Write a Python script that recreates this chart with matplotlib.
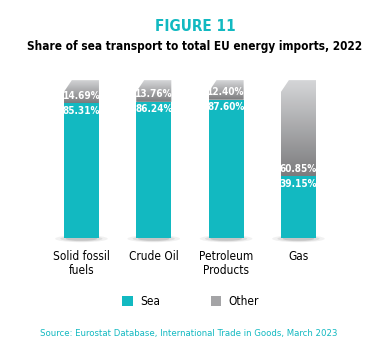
import numpy as np
import matplotlib
matplotlib.use("Agg")
import matplotlib.pyplot as plt
from matplotlib.patches import Polygon, Patch, Ellipse

# ---------- data ----------
categories = ["Solid fossil\nfuels", "Crude Oil", "Petroleum\nProducts", "Gas"]
sea = [85.31, 86.24, 87.60, 39.15]
other = [14.69, 13.76, 12.40, 60.85]

TEAL = "#12b9c1"
plt.rcParams["font.family"] = ["DejaVu Sans"]
plt.rcParams["font.stretch"] = "condensed"

fig = plt.figure(figsize=(3.9, 3.53), dpi=100)
ax = fig.add_axes([0.116, 0.326, 0.742, 0.447])
x = np.arange(len(categories))
w = 0.485

ax.set_xlim(-0.5, len(categories) - 0.5)
ax.set_ylim(0, 100)

# soft shadows under the bars
for xi in x:
    for k, a in zip([1.5, 1.2, 0.9], [0.08, 0.12, 0.18]):
        ax.add_patch(Ellipse((xi, -0.5), w * k, 3.0 * k, color="#555555",
                             alpha=a, lw=0, clip_on=False, zorder=1))

ax.bar(x, sea, w, color=TEAL, zorder=3)

# grey "other" part: gradient, top-left corner cut
grad = np.linspace(0, 1, 256).reshape(-1, 1)
cmap = matplotlib.colors.LinearSegmentedColormap.from_list("g", ["#d6d7d9", "#7b7b7d"])
cx, cy = 0.11, 7.5
for xi, s, o in zip(x, sea, other):
    top = s + o
    left, right = xi - w / 2, xi + w / 2
    shape = Polygon([(left, s), (right, s), (right, top), (left + cx, top),
                     (left, top - cy)], closed=True, facecolor="none", lw=0)
    ax.add_patch(shape)
    im = ax.imshow(grad, cmap=cmap, extent=(left, right, s, top),
                   aspect="auto", origin="upper", zorder=2, interpolation="bilinear")
    im.set_clip_path(shape)
    ax.text(xi, s + 1.5, f"{o:.2f}%", ha="center", va="bottom", color="white",
            fontsize=7.2, fontweight="bold", zorder=5)
    ax.text(xi, s - 1.5, f"{s:.2f}%", ha="center", va="top", color="white",
            fontsize=7.2, fontweight="bold", zorder=5)

ax.set_xlim(-0.5, len(categories) - 0.5)
ax.set_ylim(0, 100)
ax.set_xticks(x)
ax.set_xticklabels(categories, fontsize=8.5, linespacing=1.05)
ax.tick_params(axis="x", length=0, pad=9)
ax.set_yticks([])
for sp in ax.spines.values():
    sp.set_visible(False)

fig.text(0.5, 0.925, "FIGURE 11", ha="center", va="center", color=TEAL,
         fontsize=11, fontweight="bold")
fig.text(0.5, 0.868, "Share of sea transport to total EU energy imports, 2022",
         ha="center", va="center", color="black", fontsize=8.5, fontweight="bold")

handles = [Patch(facecolor=TEAL, label="Sea"), Patch(facecolor="#a4a4a6", label="Other")]
fig.legend(handles=handles, loc="center", bbox_to_anchor=(0.488, 0.145), ncol=2,
           frameon=False, fontsize=8.5, handlelength=0.9, handleheight=0.9,
           columnspacing=4.3, handletextpad=0.6)

fig.text(0.485, 0.055, "Source: Eurostat Database, International Trade in Goods, March 2023",
         ha="center", va="center", color=TEAL, fontsize=6.8)

fig.savefig("out.png", dpi=100)
